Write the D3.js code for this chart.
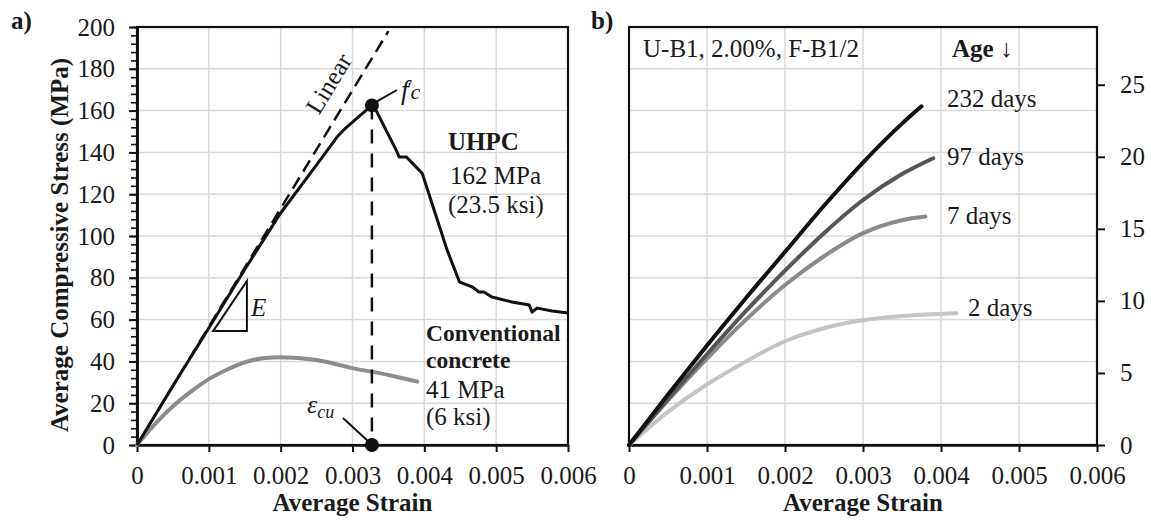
<!DOCTYPE html>
<html><head><meta charset="utf-8">
<script src="https://cdn.jsdelivr.net/npm/d3@7/dist/d3.min.js"></script>
<style>
body{margin:0;background:#fff}
svg{display:block}
text{font-family:"Liberation Serif","Times New Roman",serif;fill:#1a1a1a}
</style>
</head><body>
<svg id="c" width="1151" height="521"></svg>
<script>
// ---------- data ----------
const strainTicks = [0, 0.001, 0.002, 0.003, 0.004, 0.005, 0.006];
const strainLabels = ["0", "0.001", "0.002", "0.003", "0.004", "0.005", "0.006"];
const stressTicks = [0, 20, 40, 60, 80, 100, 120, 140, 160, 180, 200];
const ksiTicks = [0, 5, 10, 15, 20, 25];

// panel a) UHPC (MPa)
const uhpcStrain = [0, 0.0005, 0.001, 0.0015, 0.002, 0.0025, 0.0028, 0.0029, 0.003, 0.0031, 0.00327,
  0.00333, 0.00361, 0.00365, 0.00375, 0.00383, 0.00397, 0.00432, 0.00449, 0.00453, 0.00467,
  0.00476, 0.00483, 0.00494, 0.00522, 0.00546, 0.0055, 0.00557, 0.00578, 0.006];
const uhpcStress = [0, 28.3, 56, 84, 111, 134, 148, 151.5, 154.5, 157.5, 162.5,
  160, 141, 137.8, 137.8, 135, 130, 93, 78, 77.5, 75.6,
  73.2, 73.2, 70.8, 68.4, 67, 63.6, 65.5, 64.1, 63.2];

// panel a) conventional concrete (MPa)
const convStrain = [0, 0.00025, 0.0005, 0.00075, 0.001, 0.00125, 0.0015, 0.00175, 0.002, 0.0025, 0.003, 0.0035, 0.0039];
const convStress = [0, 10, 18.5, 25.5, 31.5, 36, 39.5, 41.5, 42, 40.7, 36.8, 33.5, 30.3];

// panel a) linear elastic reference line
const linearStrain = [0, 0.0035];
const linearStress = [0, 198];

// peak point
const peakStrain = 0.00327;
const peakStress = 162.5;

// panel b) (ksi) by age
const ageLabels = ["232 days", "97 days", "7 days", "2 days"];
const ageColors = ["#111111", "#555555", "#8a8a8a", "#c4c4c4"];
const d232Strain = [0, 0.0005, 0.001, 0.0015, 0.002, 0.0025, 0.003, 0.0035, 0.00375];
const d232Ksi    = [0, 3.5, 6.9, 10.2, 13.4, 16.6, 19.6, 22.3, 23.5];
const d97Strain  = [0, 0.0005, 0.001, 0.0015, 0.002, 0.0025, 0.003, 0.0035, 0.0039];
const d97Ksi     = [0, 3.2, 6.3, 9.3, 12.1, 14.7, 17.0, 18.8, 19.9];
const d7Strain   = [0, 0.0005, 0.001, 0.0015, 0.002, 0.0025, 0.003, 0.0035, 0.0038];
const d7Ksi      = [0, 3.1, 6.0, 8.7, 11.1, 13.1, 14.7, 15.6, 15.85];
const d2Strain   = [0, 0.0005, 0.001, 0.0015, 0.002, 0.0025, 0.003, 0.0035, 0.0042];
const d2Ksi      = [0, 2.3, 4.2, 5.8, 7.2, 8.1, 8.65, 8.95, 9.15];

// ---------- drawing ----------
(function () {
const svg = d3.select("#c");
const F = 25;
const yTop = 27, yBot = 445;
const xA = d3.scaleLinear().domain([0, 0.006]).range([137, 568]);
const yA = d3.scaleLinear().domain([0, 200]).range([yBot, yTop]);
const xB = d3.scaleLinear().domain([0, 0.006]).range([629, 1097]);
const yB = d3.scaleLinear().domain([0, 200]).range([yBot, yTop]);
const yKsi = d3.scaleLinear().domain([0, 200 / 6.895]).range([yBot, yTop]);

function grid(x, y) {
  const g = svg.append("g").attr("stroke", "#d9d9d9").attr("stroke-width", 1.5);
  strainTicks.slice(1).forEach(t => g.append("line").attr("x1", x(t)).attr("x2", x(t)).attr("y1", yTop).attr("y2", yBot));
  stressTicks.slice(1).forEach(t => g.append("line").attr("x1", x.range()[0]).attr("x2", x.range()[1]).attr("y1", y(t)).attr("y2", y(t)));
}
grid(xA, yA);
grid(xB, yB);

function frame(x) {
  svg.append("rect").attr("x", x.range()[0]).attr("y", yTop)
    .attr("width", x.range()[1] - x.range()[0]).attr("height", yBot - yTop)
    .attr("fill", "none").attr("stroke", "#111").attr("stroke-width", 2.2);
}
frame(xA); frame(xB);

function styleAxis(g) {
  g.select(".domain").attr("stroke", "#111").attr("stroke-width", 2.6);
  g.selectAll(".tick line").attr("stroke", "#111").attr("stroke-width", 2);
  g.selectAll("text").style("font-size", F + "px").attr("fill", "#1a1a1a").style("font-family", '"Liberation Serif",serif');
}

[xA, xB].forEach(x => {
  const g = svg.append("g").attr("transform", `translate(0,${yBot})`)
    .call(d3.axisBottom(x).tickValues(strainTicks).tickFormat((d, i) => strainLabels[i]).tickSize(7).tickSizeOuter(0));
  styleAxis(g);
  g.selectAll("text").attr("y", 39).attr("dy", 0);
});

const gMinor = svg.append("g").attr("transform", `translate(${xA(0)},0)`)
  .call(d3.axisLeft(yA).tickValues(d3.range(0, 201, 4)).tickFormat("").tickSize(6).tickSizeOuter(0));
styleAxis(gMinor);
gMinor.selectAll(".tick line").attr("stroke-width", 1.6);
const gY = svg.append("g").attr("transform", `translate(${xA(0)},0)`)
  .call(d3.axisLeft(yA).tickValues(stressTicks).tickSize(8).tickPadding(14).tickSizeOuter(0));
styleAxis(gY);

const gK = svg.append("g").attr("transform", `translate(${xB(0.006)},0)`)
  .call(d3.axisRight(yKsi).tickValues(ksiTicks).tickSize(8).tickPadding(15).tickSizeOuter(0));
styleAxis(gK);
gK.select(".domain").remove();

svg.append("text").attr("transform", "translate(68,245) rotate(-90)").attr("text-anchor", "middle")
  .style("font-size", F + "px").style("font-weight", "bold").text("Average Compressive Stress (MPa)");
svg.append("text").attr("x", (xA(0) + xA(0.006)) / 2).attr("y", 511).attr("text-anchor", "middle")
  .style("font-size", F + "px").style("font-weight", "bold").text("Average Strain");
svg.append("text").attr("x", (xB(0) + xB(0.006)) / 2).attr("y", 511).attr("text-anchor", "middle")
  .style("font-size", F + "px").style("font-weight", "bold").text("Average Strain");
svg.append("text").attr("x", 11).attr("y", 29).style("font-size", F + "px").style("font-weight", "bold").text("a)");
svg.append("text").attr("x", 591).attr("y", 29).style("font-size", F + "px").style("font-weight", "bold").text("b)");

const zip = (xs, ys) => xs.map((v, i) => [v, ys[i]]);
const lineA = d3.line().x(d => xA(d[0])).y(d => yA(d[1]));
const lineAs = d3.line().x(d => xA(d[0])).y(d => yA(d[1])).curve(d3.curveMonotoneX);

svg.append("path").attr("d", lineAs(zip(convStrain, convStress))).attr("fill", "none")
  .attr("stroke", "#8c8c8c").attr("stroke-width", 4).attr("stroke-linecap", "round");
svg.append("path").attr("d", lineA(zip(linearStrain, linearStress))).attr("fill", "none")
  .attr("stroke", "#111").attr("stroke-width", 2.5).attr("stroke-dasharray", "13,7");
svg.append("path").attr("d", lineA(zip(uhpcStrain, uhpcStress))).attr("fill", "none")
  .attr("stroke", "#111").attr("stroke-width", 3).attr("stroke-linejoin", "round");

svg.append("line").attr("x1", xA(peakStrain)).attr("x2", xA(peakStrain))
  .attr("y1", yA(peakStress)).attr("y2", yA(0))
  .attr("stroke", "#111").attr("stroke-width", 2.5).attr("stroke-dasharray", "14,10");
svg.append("circle").attr("cx", xA(peakStrain)).attr("cy", yA(peakStress)).attr("r", 7).attr("fill", "#111");
svg.append("circle").attr("cx", xA(peakStrain)).attr("cy", yA(0)).attr("r", 7).attr("fill", "#111");

svg.append("line").attr("x1", xA(peakStrain) + 5).attr("y1", yA(peakStress) - 4)
  .attr("x2", 397).attr("y2", 90).attr("stroke", "#111").attr("stroke-width", 2);
const fc = svg.append("text").attr("x", 401).attr("y", 99).style("font-size", "27px");
fc.append("tspan").style("font-style", "italic").text("f");
fc.append("tspan").attr("dx", -1).attr("dy", -3).style("font-size", "18px").text("′");
fc.append("tspan").attr("dx", -1).attr("dy", 3).style("font-style", "italic").style("font-size", "22px").text("c");

svg.append("line").attr("x1", 343).attr("y1", 418).attr("x2", xA(peakStrain) - 4).attr("y2", yA(0) - 4)
  .attr("stroke", "#111").attr("stroke-width", 2);
const ecu = svg.append("text").attr("x", 307).attr("y", 413).style("font-size", "26px");
ecu.append("tspan").style("font-style", "italic").text("ε");
ecu.append("tspan").attr("dy", 5).style("font-style", "italic").style("font-size", "18px").text("cu");

{
  const ang = Math.atan2(yA(198) - yA(0), xA(0.0035) - xA(0)) * 180 / Math.PI;
  svg.append("text").attr("transform", `translate(336,88) rotate(${ang})`).attr("text-anchor", "middle")
    .style("font-size", F + "px").text("Linear");
}

{
  const tri = [[0.00106, 54.5], [0.00153, 54.5], [0.00153, 78.5]];
  svg.append("path").attr("d", d3.line().x(d => xA(d[0])).y(d => yA(d[1]))(tri) + "Z")
    .attr("fill", "none").attr("stroke", "#111").attr("stroke-width", 2);
  svg.append("text").attr("x", 251).attr("y", 316).style("font-size", F + "px").style("font-style", "italic").text("E");
}

const txt = (x, y, s, bold, size) => svg.append("text").attr("x", x).attr("y", y)
  .style("font-size", (size || F) + "px").style("font-weight", bold ? "bold" : "normal").text(s);
txt(448, 150, "UHPC", true);
txt(450, 184, "162 MPa");
txt(448, 213, "(23.5 ksi)");
txt(426, 341, "Conventional", true, 23.5);
txt(426, 368, "concrete", true, 23.5);
txt(426, 398, "41 MPa");
txt(426, 425, "(6 ksi)");

const lineB = d3.line().x(d => xB(d[0])).y(d => yKsi(d[1])).curve(d3.curveMonotoneX);
const seriesB = [[d2Strain, d2Ksi, 3], [d7Strain, d7Ksi, 2], [d97Strain, d97Ksi, 1], [d232Strain, d232Ksi, 0]];
seriesB.forEach(([xs, ys, ci]) => {
  svg.append("path").attr("d", lineB(zip(xs, ys))).attr("fill", "none")
    .attr("stroke", ageColors[ci]).attr("stroke-width", 4).attr("stroke-linecap", "round");
});

txt(643, 57, "U-B1, 2.00%, F-B1/2");
const age = svg.append("text").attr("x", 952).attr("y", 57).style("font-size", F + "px");
age.append("tspan").style("font-weight", "bold").text("Age ");
age.append("tspan").text("↓");
txt(947, 107, ageLabels[0]);
txt(947, 165, ageLabels[1]);
txt(947, 224, ageLabels[2]);
txt(968, 316, ageLabels[3]);
})();
</script>
</body></html>
